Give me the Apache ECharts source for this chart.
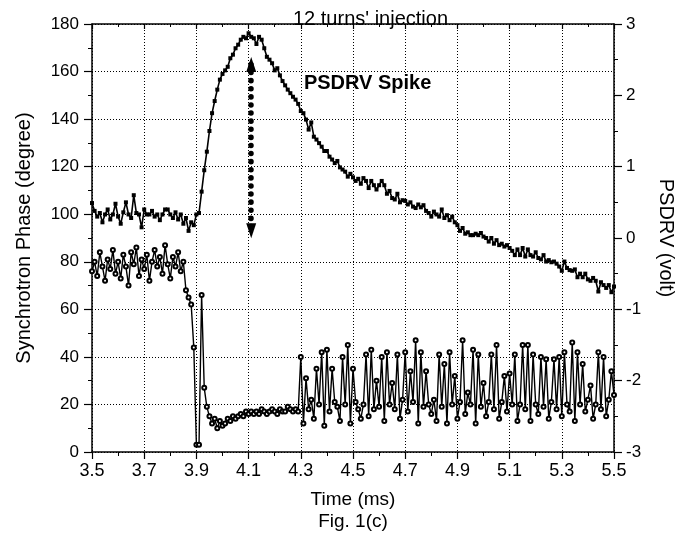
<!DOCTYPE html>
<html>
<head>
<meta charset="utf-8">
<title>12 turns' injection</title>
<script src="https://cdn.jsdelivr.net/npm/echarts@6/dist/echarts.min.js"></script>
<style>
html, body { margin: 0; padding: 0; background: #fff; }
#chart { width: 684px; height: 550px; }
</style>
</head>
<body>
<div id="chart"></div>
<script>
// time (ms), one sample every 0.01 ms
const time = [
    3.50, 3.51, 3.52, 3.53, 3.54, 3.55, 3.56, 3.57, 3.58, 3.59,
    3.60, 3.61, 3.62, 3.63, 3.64, 3.65, 3.66, 3.67, 3.68, 3.69,
    3.70, 3.71, 3.72, 3.73, 3.74, 3.75, 3.76, 3.77, 3.78, 3.79,
    3.80, 3.81, 3.82, 3.83, 3.84, 3.85, 3.86, 3.87, 3.88, 3.89,
    3.90, 3.91, 3.92, 3.93, 3.94, 3.95, 3.96, 3.97, 3.98, 3.99,
    4.00, 4.01, 4.02, 4.03, 4.04, 4.05, 4.06, 4.07, 4.08, 4.09,
    4.10, 4.11, 4.12, 4.13, 4.14, 4.15, 4.16, 4.17, 4.18, 4.19,
    4.20, 4.21, 4.22, 4.23, 4.24, 4.25, 4.26, 4.27, 4.28, 4.29,
    4.30, 4.31, 4.32, 4.33, 4.34, 4.35, 4.36, 4.37, 4.38, 4.39,
    4.40, 4.41, 4.42, 4.43, 4.44, 4.45, 4.46, 4.47, 4.48, 4.49,
    4.50, 4.51, 4.52, 4.53, 4.54, 4.55, 4.56, 4.57, 4.58, 4.59,
    4.60, 4.61, 4.62, 4.63, 4.64, 4.65, 4.66, 4.67, 4.68, 4.69,
    4.70, 4.71, 4.72, 4.73, 4.74, 4.75, 4.76, 4.77, 4.78, 4.79,
    4.80, 4.81, 4.82, 4.83, 4.84, 4.85, 4.86, 4.87, 4.88, 4.89,
    4.90, 4.91, 4.92, 4.93, 4.94, 4.95, 4.96, 4.97, 4.98, 4.99,
    5.00, 5.01, 5.02, 5.03, 5.04, 5.05, 5.06, 5.07, 5.08, 5.09,
    5.10, 5.11, 5.12, 5.13, 5.14, 5.15, 5.16, 5.17, 5.18, 5.19,
    5.20, 5.21, 5.22, 5.23, 5.24, 5.25, 5.26, 5.27, 5.28, 5.29,
    5.30, 5.31, 5.32, 5.33, 5.34, 5.35, 5.36, 5.37, 5.38, 5.39,
    5.40, 5.41, 5.42, 5.43, 5.44, 5.45, 5.46, 5.47, 5.48, 5.49,
    5.50
];

// synchrotron phase (degree), left axis, open markers
const phase = [
    76, 80, 74, 84, 78, 72, 81, 77, 85, 75,
    80, 73, 83, 78, 70, 84, 79, 86, 74, 81,
    77, 83, 72, 80, 85, 78, 82, 75, 87, 79,
    73, 82, 78, 84, 76, 80, 68, 65, 62, 44,
    3, 3, 66, 27, 19, 15, 12, 14, 10, 13,
    11, 12, 14, 13, 15, 14, 15, 16, 15, 17,
    16, 17, 16, 17, 16, 18, 17, 16, 17, 18,
    17, 16, 18, 17, 17, 19, 18, 17, 18, 17,
    40, 12, 31, 18, 22, 14, 35, 20, 42, 11,
    43, 17, 35, 21, 19, 13, 40, 20, 45, 12,
    35, 21, 18, 14, 20, 41, 15, 43, 18, 30,
    19, 40, 13, 42, 20, 29, 18, 41, 14, 22,
    42, 17, 34, 21, 47, 12, 42, 19, 34, 20,
    16, 22, 13, 41, 19, 37, 12, 42, 20, 32,
    14, 21, 47, 16, 25, 20, 43, 12, 41, 19,
    29, 15, 21, 41, 18, 45, 14, 21, 32, 17,
    33, 20, 41, 13, 20, 45, 18, 45, 13, 41,
    20, 16, 40, 19, 39, 14, 21, 39, 18, 40,
    15, 42, 20, 17, 46, 13, 42, 20, 37, 17,
    22, 28, 14, 20, 42, 18, 40, 15, 22, 34,
    24
];

// PSDRV (volt), right axis, filled markers
const psdrv = [
    0.49, 0.38, 0.30, 0.35, 0.22, 0.33, 0.40, 0.26, 0.33, 0.48,
    0.30, 0.20, 0.36, 0.50, 0.33, 0.28, 0.60, 0.35, 0.33, 0.15,
    0.40, 0.33, 0.33, 0.38, 0.30, 0.33, 0.25, 0.33, 0.40, 0.40,
    0.33, 0.28, 0.36, 0.26, 0.33, 0.20, 0.28, 0.10, 0.22, 0.18,
    0.33, 0.35, 0.65, 0.95, 1.21, 1.50, 1.75, 1.92, 2.08, 2.22,
    2.30, 2.35, 2.40, 2.52, 2.57, 2.66, 2.71, 2.78, 2.82, 2.80,
    2.87, 2.82, 2.80, 2.72, 2.82, 2.78, 2.66, 2.54, 2.50, 2.45,
    2.35, 2.38, 2.28, 2.20, 2.14, 2.08, 2.03, 1.98, 1.94, 1.88,
    1.78, 1.75, 1.66, 1.52, 1.62, 1.42, 1.38, 1.33, 1.28, 1.22,
    1.22, 1.14, 1.10, 1.05, 1.08, 0.99, 0.96, 0.93, 0.86, 0.90,
    0.85, 0.80, 0.83, 0.76, 0.84, 0.80, 0.70, 0.80, 0.74, 0.68,
    0.74, 0.80, 0.74, 0.62, 0.66, 0.56, 0.54, 0.62, 0.50, 0.53,
    0.52, 0.47, 0.50, 0.44, 0.42, 0.47, 0.43, 0.46, 0.38, 0.35,
    0.30, 0.37, 0.33, 0.30, 0.40, 0.28, 0.32, 0.25, 0.30, 0.22,
    0.18, 0.10, 0.14, 0.06, 0.08, 0.04, 0.04, 0.06, 0.04, 0.07,
    0.02, 0.00, -0.05, 0.00, -0.08, -0.03, -0.10, -0.08, -0.12, -0.10,
    -0.14, -0.18, -0.24, -0.16, -0.24, -0.14, -0.26, -0.16, -0.24, -0.26,
    -0.20, -0.28, -0.30, -0.24, -0.33, -0.31, -0.34, -0.33, -0.36, -0.40,
    -0.46, -0.33, -0.42, -0.45, -0.46, -0.44, -0.55, -0.50, -0.55, -0.50,
    -0.58, -0.60, -0.56, -0.60, -0.75, -0.62, -0.66, -0.70, -0.66, -0.76,
    -0.68
];

// axis ranges
const timeRange = [3.5, 5.5];
const phaseRange = [0, 180];
const voltRange = [-3, 3];

// annotation: dotted double arrow at the spike, and its label (data coords, degree)
const spikeArrow = [4.11, 163, 93];
const spikeLabel = [4.31, 155];

const font = '"Liberation Sans", Arial, Helvetica, sans-serif';
const black = '#000';

let myChart = echarts.init(document.getElementById('chart'));

let dotted = { show: true, lineStyle: { color: black, type: [1, 2], width: 1 } };

let option = {
    animation: false,
    backgroundColor: '#fff',
    title: {
        text: "12 turns' injection",
        left: 288,
        top: 4,
        textStyle: { fontFamily: font, fontSize: 20, fontWeight: 'normal', color: black }
    },
    grid: {
        left: 92,
        right: 63,
        top: 24,
        bottom: 98
    },
    xAxis: [
        {
            type: 'value',
            position: 'bottom',
            min: timeRange[0],
            max: timeRange[1],
            interval: 0.2,
            name: 'Time (ms)\nFig. 1(c)',
            nameLocation: 'middle',
            nameGap: 37,
            nameTextStyle: { fontFamily: font, fontSize: 19, color: black, lineHeight: 22 },
            axisLine: { onZero: false, lineStyle: { color: black, width: 1.5 } },
            axisTick: { show: true, inside: false, length: 7, lineStyle: { color: black, width: 1.2 } },
            minorTick: { show: true, splitNumber: 2, length: 4, lineStyle: { color: black, width: 1 } },
            axisLabel: {
                margin: 10,
                fontFamily: font,
                fontSize: 18,
                color: black,
                formatter: v => v.toFixed(1)
            },
            splitLine: dotted
        },
        {
            type: 'value',
            position: 'top',
            min: timeRange[0],
            max: timeRange[1],
            interval: 0.2,
            axisLine: { onZero: false, lineStyle: { color: black, width: 1.5 } },
            axisTick: { show: true, inside: true, length: 5, lineStyle: { color: black, width: 1.2 } },
            minorTick: { show: true, splitNumber: 2, length: 3, lineStyle: { color: black, width: 1 } },
            axisLabel: { show: false },
            splitLine: { show: false }
        }
    ],
    yAxis: [
        {
            type: 'value',
            position: 'left',
            min: phaseRange[0],
            max: phaseRange[1],
            interval: 20,
            name: 'Synchrotron Phase (degree)',
            nameLocation: 'middle',
            nameGap: 58,
            nameTextStyle: { fontFamily: font, fontSize: 20, color: black },
            axisLine: { show: true, onZero: false, lineStyle: { color: black, width: 1.5 } },
            axisTick: { show: true, inside: false, length: 8, lineStyle: { color: black, width: 1.2 } },
            minorTick: { show: true, splitNumber: 2, length: 4, lineStyle: { color: black, width: 1 } },
            axisLabel: { margin: 13, fontFamily: font, fontSize: 17, color: black },
            splitLine: dotted
        },
        {
            type: 'value',
            position: 'right',
            min: voltRange[0],
            max: voltRange[1],
            interval: 1,
            name: 'PSDRV (volt)',
            nameLocation: 'middle',
            nameGap: 42,
            nameRotate: -90,
            nameTextStyle: { fontFamily: font, fontSize: 20, color: black },
            axisLine: { show: true, onZero: false, lineStyle: { color: black, width: 1.5 } },
            axisTick: { show: true, inside: false, length: 8, lineStyle: { color: black, width: 1.2 } },
            minorTick: { show: true, splitNumber: 2, length: 4, lineStyle: { color: black, width: 1 } },
            axisLabel: { margin: 12, fontFamily: font, fontSize: 17, color: black },
            splitLine: { show: false }
        }
    ],
    series: [
        {
            name: 'PSDRV',
            type: 'line',
            xAxisIndex: 0,
            yAxisIndex: 1,
            data: time.map((t, i) => [t, psdrv[i]]),
            symbol: 'rect',
            symbolSize: 4,
            showAllSymbol: true,
            lineStyle: { color: black, width: 1.6 },
            itemStyle: { color: black },
            z: 3
        },
        {
            name: 'Synchrotron Phase',
            type: 'line',
            xAxisIndex: 0,
            yAxisIndex: 0,
            data: time.map((t, i) => [t, phase[i]]),
            symbol: 'emptyCircle',
            symbolSize: 4,
            showAllSymbol: true,
            lineStyle: { color: black, width: 1.4 },
            itemStyle: { color: black, borderColor: black, borderWidth: 1 },
            z: 2,
            markLine: {
                silent: true,
                symbol: ['triangle', 'triangle'],
                symbolSize: [10, 15],
                label: { show: false },
                lineStyle: { color: black, width: 5.5, type: [0.1, 8], cap: 'round' },
                data: [[
                    { coord: [spikeArrow[0], spikeArrow[1]] },
                    { coord: [spikeArrow[0], spikeArrow[2]] }
                ]]
            },
            markPoint: {
                silent: true,
                symbol: 'circle',
                symbolSize: 1,
                itemStyle: { color: 'transparent' },
                data: [{
                    coord: spikeLabel,
                    label: {
                        show: true,
                        position: 'right',
                        distance: 0,
                        formatter: 'PSDRV Spike',
                        fontFamily: font,
                        fontSize: 20,
                        fontWeight: 'bold',
                        color: black
                    }
                }]
            }
        }
    ]
};

myChart.setOption(option);
</script>
</body>
</html>
